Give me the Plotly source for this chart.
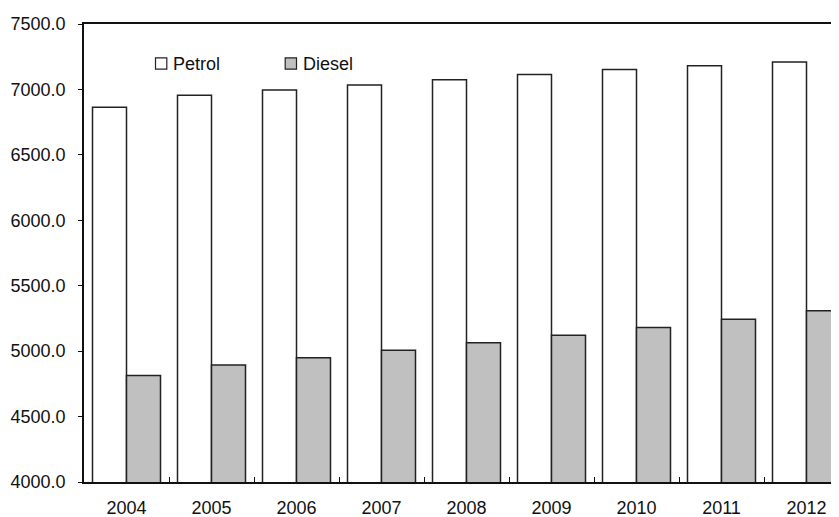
import plotly.graph_objects as go

years = ["2004", "2005", "2006", "2007", "2008", "2009", "2010", "2011", "2012"]
petrol = [6863, 6955, 6995, 7033, 7074, 7114, 7153, 7181, 7209]
diesel = [4813, 4895, 4950, 5007, 5065, 5121, 5180, 5244, 5309]
y_ticks = [4000, 4500, 5000, 5500, 6000, 6500, 7000, 7500]
series_names = ["Petrol", "Diesel"]
series_fill = ["white", "#C0C0C0"]

# the page body has an 8px margin, so the figure is sized to fill the rest of the window
OFF = 8
W, H = 839 - OFF, 517 - OFF
L, T, B, R = 84 - OFF, 24 - OFF, 35, 0
cat_px = 85.0
plot_w = W - L - R
plot_h = H - T - B
edge = "#222222"
font = dict(family="Liberation Sans, Arial, sans-serif", size=18, color="#111111")


def px_x(px):
    # page pixel -> paper fraction
    return (px - OFF - L) / plot_w


def px_y(py):
    return (H - B - (py - OFF)) / plot_h


fig = go.Figure()
for name, vals, fill in zip(series_names, [petrol, diesel], series_fill):
    fig.add_trace(go.Bar(
        x=years, y=vals, name=name,
        marker=dict(color=fill, line=dict(color=edge, width=1.5)),
    ))

# legend drawn manually (box + label) to match the reference spacing
legend_boxes_px = [(155.5, 57.8, 166.8, 69.2), (285.2, 57.8, 296.5, 69.2)]
legend_text_px = [(171.0, 64.0), (301.0, 64.0)]
shapes = []
annotations = []
for (x0, y0, x1, y1), (tx, ty), name, fill in zip(legend_boxes_px, legend_text_px, series_names, series_fill):
    shapes.append(dict(
        type="rect", xref="paper", yref="paper",
        x0=px_x(x0), x1=px_x(x1), y0=px_y(y1), y1=px_y(y0),
        fillcolor=fill, line=dict(color=edge, width=1.2),
    ))
    annotations.append(dict(
        text=name, xref="paper", yref="paper", x=px_x(tx), y=px_y(ty),
        xanchor="left", yanchor="middle", showarrow=False, font=font,
    ))

fig.update_layout(
    template="none",
    width=W, height=H,
    margin=dict(l=L, r=R, t=T, b=B, pad=0),
    paper_bgcolor="white", plot_bgcolor="white",
    barmode="group", bargap=0.2, bargroupgap=0,
    font=font,
    showlegend=False,
    shapes=shapes,
    annotations=annotations,
    xaxis=dict(
        type="category", automargin=False,
        range=[-0.5, -0.5 + plot_w / cat_px],
        showline=True, linecolor="#111111", linewidth=1.5, mirror=True,
        ticks="inside", ticklen=5, tickwidth=1, tickcolor="#111111",
        tickson="boundaries", showgrid=False, zeroline=False,
        tickfont=font, ticklabelstandoff=9,
    ),
    yaxis=dict(
        automargin=False,
        range=[4000, 7500], tickvals=y_ticks, tickformat=".1f",
        showline=True, linecolor="#111111", linewidth=1.5,
        ticks="outside", ticklen=4, tickwidth=1, tickcolor="#111111",
        showgrid=False, zeroline=False, tickfont=font,
        ticklabelstandoff=9,
    ),
)

fig.write_html("out.html")
